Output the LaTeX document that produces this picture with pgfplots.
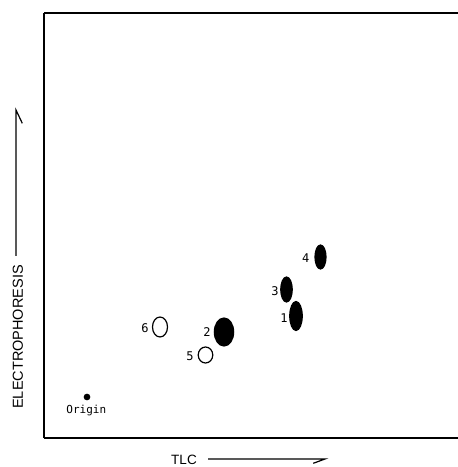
\documentclass[border=0pt]{standalone}
\usepackage{pgfplots}
\pgfplotsset{compat=1.18}
\usepackage{fontspec}
\setmainfont{Liberation Sans}
\newfontfamily\spotfont{DejaVu Sans Mono}

\begin{document}
\begin{tikzpicture}[x=1pt,y=1pt,
    spot/.style={only marks, mark=*, line width=1.2pt},
    lab/.style={font=\spotfont\fontsize{12}{12}\selectfont, inner sep=0pt}]
  \useasboundingbox (0,0) rectangle (458,467);
  \begin{axis}[
      at={(44pt,29pt)}, anchor=south west,
      scale only axis, width=414pt, height=425pt,
      xmin=0, xmax=414, ymin=0, ymax=425,
      axis x line*=box, axis y line*=left,
      axis line style={line width=1.3pt},
      xtick=\empty, ytick=\empty,
      clip=false,
    ]
    % origin
    \addplot[spot, mark size=2.7pt, fill=black] coordinates {(43,41)};
    % open spots
    \addplot[spot, mark size=10pt, mark options={xscale=0.75, fill=white, draw=black}] coordinates {(116,111)};
    \addplot[spot, mark size=8pt, mark options={xscale=0.91, fill=white, draw=black}] coordinates {(161.5,83)};
    % filled spots
    \addplot[spot, mark size=14pt, mark options={xscale=0.69, fill=black, draw=black}] coordinates {(180,106)};
    \addplot[spot, mark size=12.5pt, mark options={xscale=0.46, fill=black, draw=black}] coordinates {(242.5,148.5)};
    \addplot[spot, mark size=14.5pt, mark options={xscale=0.43, fill=black, draw=black}] coordinates {(252,122)};
    \addplot[spot, mark size=12pt, mark options={xscale=0.46, fill=black, draw=black}] coordinates {(276.5,181)};

    \node[lab, font=\spotfont\fontsize{11}{11}\selectfont] at (axis cs:42.3,27) {Origin};
    \node[lab] at (axis cs:101,110.3) {6};
    \node[lab] at (axis cs:163,106.3) {2};
    \node[lab] at (axis cs:146,81.3) {5};
    \node[lab] at (axis cs:231,147.3) {3};
    \node[lab] at (axis cs:240,120) {1};
    \node[lab] at (axis cs:261.7,180) {4};
  \end{axis}
  % axis titles with arrows
  \node[rotate=90, font=\fontsize{14.5}{14.5}\selectfont, inner sep=0pt] at (18,130) {ELECTROPHORESIS};
  \draw[line width=1.2pt] (16,211) -- (16,357) -- (22.3,343.7);
  \node[font=\fontsize{13.5}{13.5}\selectfont, inner sep=0pt] at (184,7) {TLC};
  \draw[line width=1.2pt] (208,8) -- (325,8) -- (313.3,3.7);
\end{tikzpicture}
\end{document}
